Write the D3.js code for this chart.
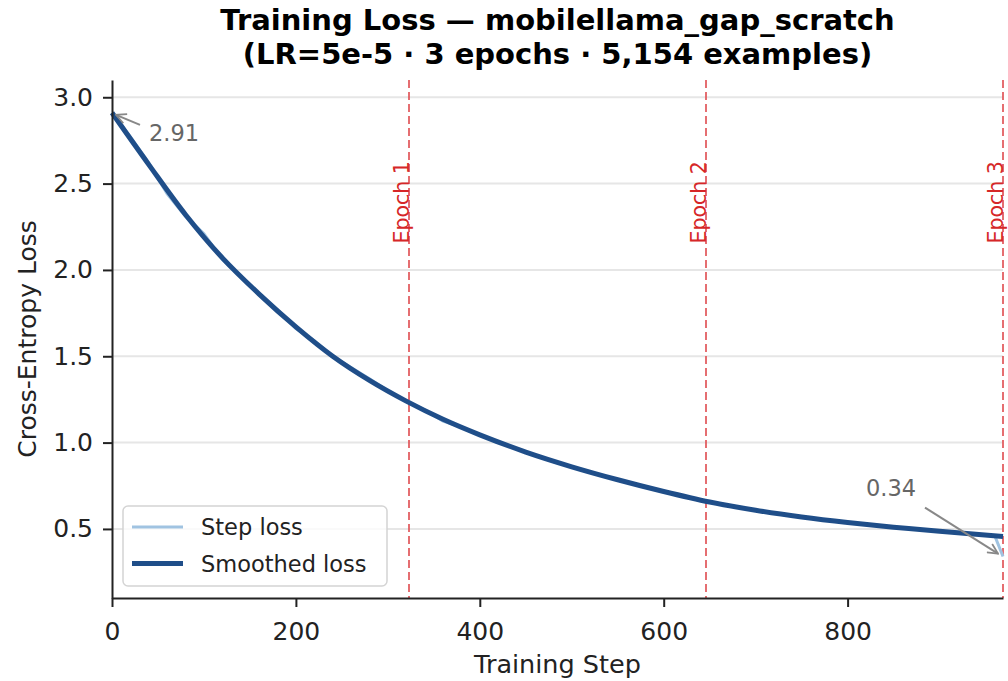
<!DOCTYPE html>
<html>
<head>
<meta charset="utf-8">
<script src="https://cdn.jsdelivr.net/npm/d3@7"></script>
<style>
  body { margin: 0; background: #fff; }
  svg text { font-family: "DejaVu Sans", sans-serif; }
</style>
</head>
<body>
<div id="chart"></div>
<script>
// step loss (logged every 20 steps, last point = final step)
const stepSteps = [0, 20, 40, 60, 80, 100, 120, 140, 160, 180, 200, 220, 240, 260, 280, 300, 320, 340, 360, 380,
    400, 420, 440, 460, 480, 500, 520, 540, 560, 580, 600, 620, 640, 660, 680, 700, 720, 740, 760, 780,
    800, 820, 840, 860, 880, 900, 920, 940, 960, 969]
const stepLoss = [2.91, 2.77, 2.62, 2.44, 2.31, 2.21, 2.06, 1.96, 1.86, 1.77, 1.66, 1.59, 1.50, 1.435, 1.37, 1.30, 1.24, 1.19, 1.125, 1.09,
    1.045, 1.005, 0.965, 0.925, 0.89, 0.86, 0.83, 0.80, 0.772, 0.745, 0.718, 0.694, 0.668, 0.647, 0.627, 0.608, 0.592, 0.576, 0.562, 0.55,
    0.537, 0.526, 0.515, 0.505, 0.496, 0.487, 0.479, 0.47, 0.461, 0.34]

// smoothed loss
const smoothSteps = [0, 40, 80, 120, 160, 200, 240, 280, 320, 360, 400, 450, 500, 550, 600, 650, 700, 750, 800, 850, 900, 969]
const smoothLoss = [2.91, 2.61, 2.32, 2.07, 1.86, 1.67, 1.50, 1.36, 1.24, 1.135, 1.045, 0.945, 0.86, 0.785, 0.717, 0.656, 0.608, 0.569, 0.537, 0.51, 0.487, 0.456]

const epochSteps = [323, 646, 969]
const epochLabels = ["Epoch 1", "Epoch 2", "Epoch 3"]
const xTicks = [0, 200, 400, 600, 800]
const yTicks = [0.5, 1.0, 1.5, 2.0, 2.5, 3.0]

const firstLoss = 2.91
const finalLoss = 0.34

let dimensions = {
    width: 1008,
    height: 681,
    margin: {top: 80, right: 5, bottom: 83, left: 112},
}
const innerW = dimensions.width - dimensions.margin.left - dimensions.margin.right
const innerH = dimensions.height - dimensions.margin.top - dimensions.margin.bottom

const svg = d3.select("#chart")
    .append("svg")
    .attr("width", dimensions.width)
    .attr("height", dimensions.height)

const bounds = svg.append("g")
    .attr("transform", "translate(" + dimensions.margin.left + "," + dimensions.margin.top + ")")

const xScale = d3.scaleLinear().domain([0, 969]).range([0, innerW])
const yScale = d3.scaleLinear().domain([0.1, 3.1]).range([innerH, 0])

// grid
bounds.append("g")
    .selectAll("line")
    .data(yTicks)
    .join("line")
    .attr("x1", 0).attr("x2", innerW)
    .attr("y1", d => yScale(d)).attr("y2", d => yScale(d))
    .attr("stroke", "#e6e6e6")
    .attr("stroke-width", 2)

// epoch markers
const epochs = bounds.append("g")
epochs.selectAll("line")
    .data(epochSteps)
    .join("line")
    .attr("x1", d => xScale(d)).attr("x2", d => xScale(d))
    .attr("y1", 0).attr("y2", innerH)
    .attr("stroke", "#e05558")
    .attr("stroke-opacity", 0.85)
    .attr("stroke-width", 2)
    .attr("stroke-dasharray", "8,4")
epochs.selectAll("text")
    .data(epochSteps)
    .join("text")
    .attr("transform", d => "translate(" + (xScale(d) - 0.5) + "," + yScale(2.63) + ") rotate(-90)")
    .attr("text-anchor", "end")
    .attr("fill", "#d62728")
    .style("font-size", "20.5px")
    .text((d, i) => epochLabels[i])

// lines
const stepLine = d3.line()
    .x((d, i) => xScale(stepSteps[i]))
    .y(d => yScale(d))
bounds.append("path")
    .attr("d", stepLine(stepLoss))
    .attr("fill", "none")
    .attr("stroke", "#a0c3e1")
    .attr("stroke-width", 3)

const smoothLine = d3.line()
    .x((d, i) => xScale(smoothSteps[i]))
    .y(d => yScale(d))
    .curve(d3.curveCatmullRom.alpha(0.5))
bounds.append("path")
    .attr("d", smoothLine(smoothLoss))
    .attr("fill", "none")
    .attr("stroke", "#1f4e89")
    .attr("stroke-width", 5)

// axes
const xAxis = bounds.append("g")
    .attr("transform", "translate(0," + innerH + ")")
    .call(d3.axisBottom(xScale).tickValues(xTicks).tickSize(9).tickPadding(15).tickSizeOuter(0))
const yAxis = bounds.append("g")
    .call(d3.axisLeft(yScale).tickValues(yTicks).tickFormat(d3.format(".1f")).tickSize(9).tickPadding(10).tickSizeOuter(0))
;[xAxis, yAxis].forEach(ax => {
    ax.select(".domain").attr("stroke", "#222").attr("stroke-width", 2)
    ax.selectAll(".tick line").attr("stroke", "#222").attr("stroke-width", 2)
    ax.selectAll(".tick text").style("font-size", "25px").attr("fill", "#222")
})

// annotations
const defs = svg.append("defs")
defs.append("marker")
    .attr("id", "arrow")
    .attr("viewBox", "0 0 12 12")
    .attr("refX", 11).attr("refY", 6)
    .attr("markerWidth", 12).attr("markerHeight", 12)
    .attr("markerUnits", "userSpaceOnUse")
    .attr("orient", "auto")
    .append("path")
    .attr("d", "M1,1 L11,6 L1,11")
    .attr("fill", "none")
    .attr("stroke", "#888")
    .attr("stroke-width", 1.8)

const ann = bounds.append("g")
const a1x = xScale(0), a1y = yScale(firstLoss)
ann.append("line")
    .attr("x1", a1x + 28).attr("y1", a1y + 12)
    .attr("x2", a1x + 4).attr("y2", a1y + 2)
    .attr("stroke", "#888").attr("stroke-width", 2)
    .attr("marker-end", "url(#arrow)")
ann.append("text")
    .attr("x", a1x + 37).attr("y", a1y + 28)
    .attr("fill", "#666")
    .style("font-size", "22.5px")
    .text(firstLoss.toFixed(2))

const a2x = xScale(969), a2y = yScale(finalLoss)
ann.append("line")
    .attr("x1", a2x - 78).attr("y1", a2y - 49)
    .attr("x2", a2x - 5).attr("y2", a2y - 3)
    .attr("stroke", "#888").attr("stroke-width", 2)
    .attr("marker-end", "url(#arrow)")
ann.append("text")
    .attr("x", a2x - 137).attr("y", a2y - 61)
    .attr("fill", "#666")
    .style("font-size", "22.5px")
    .text(finalLoss.toFixed(2))

// legend
const legend = bounds.append("g").attr("transform", "translate(11," + (innerH - 92) + ")")
legend.append("rect")
    .attr("width", 264).attr("height", 80)
    .attr("rx", 5)
    .attr("fill", "#fff").attr("fill-opacity", 0.8)
    .attr("stroke", "#d4d4d4").attr("stroke-width", 1.5)
const legendItems = [
    {label: "Step loss", color: "#a0c3e1", width: 3},
    {label: "Smoothed loss", color: "#1f4e89", width: 5},
]
legendItems.forEach((item, i) => {
    const yy = 21 + i * 36.5
    legend.append("line")
        .attr("x1", 9).attr("x2", 60)
        .attr("y1", yy).attr("y2", yy)
        .attr("stroke", item.color).attr("stroke-width", item.width)
    legend.append("text")
        .attr("x", 78).attr("y", yy)
        .attr("dy", "0.36em")
        .attr("fill", "#222")
        .style("font-size", "22.5px")
        .text(item.label)
})

// labels
svg.append("text")
    .attr("x", dimensions.margin.left + innerW / 2)
    .attr("y", 673)
    .attr("text-anchor", "middle")
    .attr("fill", "#222")
    .style("font-size", "25.5px")
    .text("Training Step")
svg.append("text")
    .attr("transform", "translate(36," + (dimensions.margin.top + innerH / 2) + ") rotate(-90)")
    .attr("text-anchor", "middle")
    .attr("fill", "#222")
    .style("font-size", "25px")
    .text("Cross-Entropy Loss")

const title = svg.append("text")
    .attr("text-anchor", "middle")
    .attr("fill", "#000")
    .style("font-size", "29px")
    .style("font-weight", "bold")
title.append("tspan")
    .attr("x", dimensions.margin.left + innerW / 2).attr("y", 30)
    .text("Training Loss — mobilellama_gap_scratch")
title.append("tspan")
    .attr("x", dimensions.margin.left + innerW / 2).attr("y", 64)
    .text("(LR=5e-5 · 3 epochs · 5,154 examples)")
</script>
</body>
</html>
